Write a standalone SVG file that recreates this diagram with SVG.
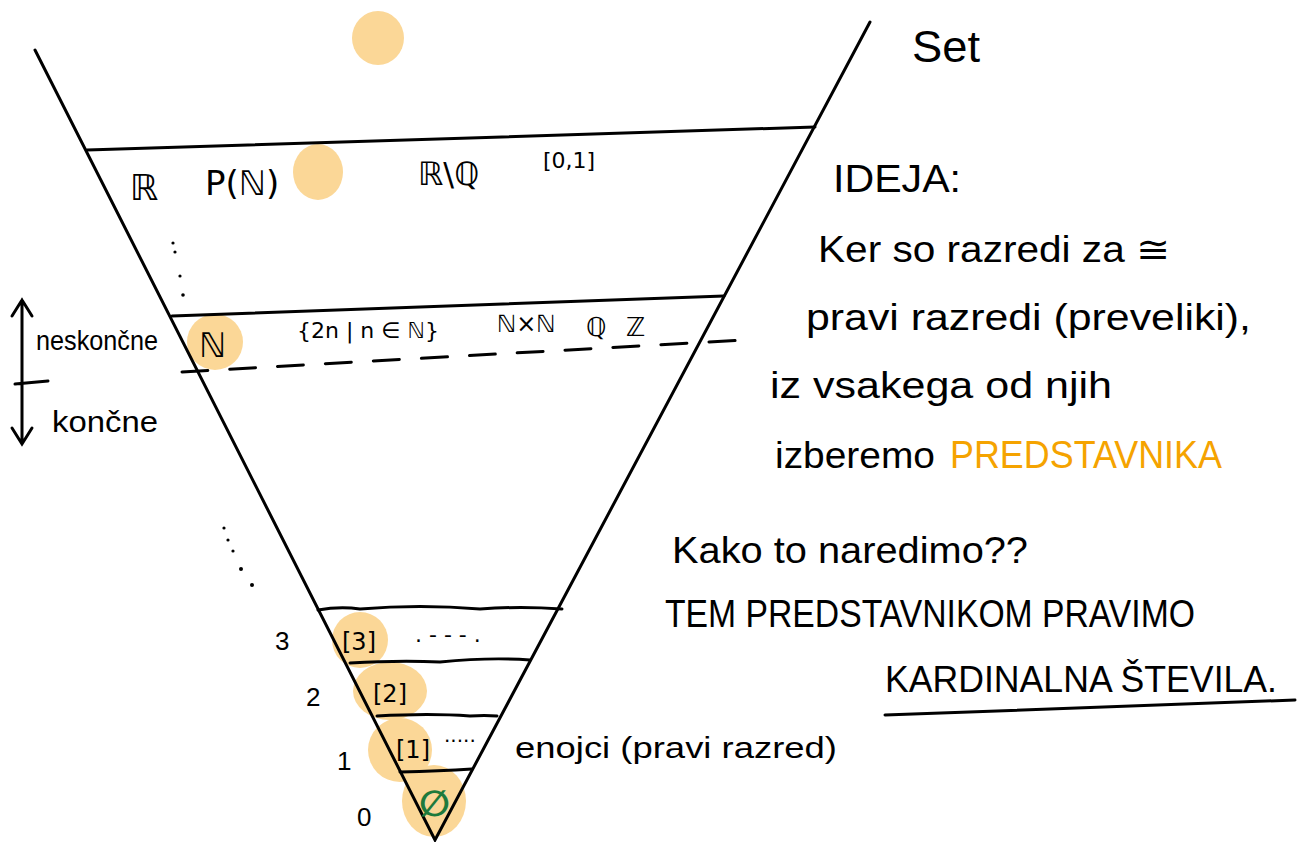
<svg xmlns="http://www.w3.org/2000/svg" width="1298" height="842" viewBox="0 0 1298 842">
<defs>
<style>
.ln{fill:none;stroke:#000;stroke-width:3;stroke-linecap:round}
.hl{fill:#fbd797}
.t{font-family:"DejaVu Sans","Liberation Sans",sans-serif;fill:#000}
.h{font-family:"Liberation Sans","DejaVu Sans",sans-serif;fill:#000}
.or{fill:#f5a300}
</style>
</defs>
<rect width="1298" height="842" fill="#fff"/>

<g id="highlights">
<ellipse class="hl" cx="378" cy="38" rx="26" ry="27"/>
<ellipse class="hl" cx="318" cy="172" rx="25" ry="28"/>
<ellipse class="hl" cx="215" cy="342" rx="28" ry="28"/>
<ellipse class="hl" cx="360" cy="640" rx="28" ry="28"/>
<ellipse class="hl" cx="390" cy="691" rx="37" ry="29"/>
<ellipse class="hl" cx="400" cy="750" rx="32" ry="32"/>
<ellipse class="hl" cx="434" cy="801" rx="32" ry="36"/>
</g>

<g id="connectors">
<path class="ln" d="M35 50 L435 840 L870 22"/>
<path class="ln" d="M87 150 L815 127"/>
<path class="ln" d="M172 316 L724 296"/>
<path class="ln" stroke-dasharray="26 22" d="M182 372 Q460 356 745 340"/>
<path class="ln" d="M318 610 Q340 606 360 609 Q420 604 480 609 Q520 606 562 609"/>
<path class="ln" d="M350 663 Q400 660 440 662 Q490 657 530 660"/>
<path class="ln" d="M377 716 Q430 713 470 716 Q485 715 497 716"/>
<path class="ln" d="M400 772 Q440 771 472 769"/>
<path class="ln" d="M885 715 L1295 700"/>
<path class="ln" d="M22 300 L22 442 M12 316 L22 300 L32 316 M12 428 L22 444 L32 428 M15 384 L48 381"/>
</g>

<g id="dots">
<circle cx="173" cy="243" r="1.6"/><circle cx="175" cy="252" r="1.6"/>
<circle cx="180" cy="276" r="1.6"/><circle cx="183" cy="295" r="1.8"/>
<circle cx="224" cy="528" r="1.6"/><circle cx="228" cy="540" r="1.6"/>
<circle cx="233" cy="551" r="1.6"/><circle cx="241" cy="569" r="2"/><circle cx="252" cy="585" r="2"/>
</g>

<g id="top-class">
<text class="t" x="130" y="200" font-size="36">ℝ</text>
<text class="t" x="205" y="195" font-size="34">P(ℕ)</text>
<text class="t" x="418" y="185" font-size="32">ℝ\ℚ</text>
<text class="t" x="543" y="168" font-size="22">[0,1]</text>
</g>

<g id="countable-class">
<text class="t" x="199" y="357" font-size="34">ℕ</text>
<text class="t" x="297" y="338" font-size="22">{2n | n ∈ ℕ}</text>
<text class="t" x="497" y="332" font-size="24">ℕ×ℕ</text>
<text class="t" x="586" y="336" font-size="26">ℚ</text>
<text class="t" x="626" y="336" font-size="26">ℤ</text>
</g>

<g id="side-labels">
<text class="h" x="36" y="350" font-size="28" textLength="122" lengthAdjust="spacingAndGlyphs">neskončne</text>
<text class="h" x="52" y="432" font-size="30" textLength="106" lengthAdjust="spacingAndGlyphs">končne</text>
</g>

<g id="finite-classes">
<text class="h" x="275" y="650" font-size="26">3</text>
<text class="h" x="306" y="706" font-size="26">2</text>
<text class="h" x="337" y="770" font-size="26">1</text>
<text class="h" x="357" y="826" font-size="26">0</text>
<text class="t" x="342" y="650" font-size="24">[3]</text>
<text class="t" x="415" y="642" font-size="22">. - - - .</text>
<text class="t" x="373" y="702" font-size="24">[2]</text>
<text class="t" x="396" y="758" font-size="24">[1]</text>
<text class="t" x="444" y="742" font-size="20">.....</text>
<text class="t" x="419" y="816" font-size="36" font-weight="bold" style="fill:#1e7a3c">∅</text>
<text class="h" x="515" y="758" font-size="30" textLength="322" lengthAdjust="spacingAndGlyphs">enojci  (pravi razred)</text>
</g>

<g id="title">
<text class="h" x="912" y="62" font-size="44" textLength="68" lengthAdjust="spacingAndGlyphs">Set</text>
</g>

<g id="idea">
<text class="h" x="833" y="192" font-size="38" textLength="128" lengthAdjust="spacingAndGlyphs">IDEJA:</text>
<text class="h" x="818" y="262" font-size="36" textLength="352" lengthAdjust="spacingAndGlyphs">Ker so razredi za ≅</text>
<text class="h" x="806" y="330" font-size="36" textLength="445" lengthAdjust="spacingAndGlyphs">pravi razredi (preveliki),</text>
<text class="h" x="770" y="398" font-size="36" textLength="342" lengthAdjust="spacingAndGlyphs">iz vsakega od njih</text>
<text class="h" x="775" y="468" font-size="36" textLength="160" lengthAdjust="spacingAndGlyphs">izberemo</text>
<text class="h or" x="950" y="468" font-size="38" textLength="272" lengthAdjust="spacingAndGlyphs" style="fill:#f5a300">PREDSTAVNIKA</text>
<text class="h" x="672" y="563" font-size="36" textLength="356" lengthAdjust="spacingAndGlyphs">Kako to naredimo??</text>
<text class="h" x="665" y="627" font-size="38" textLength="530" lengthAdjust="spacingAndGlyphs">TEM PREDSTAVNIKOM PRAVIMO</text>
<text class="h" x="885" y="692" font-size="36" textLength="392" lengthAdjust="spacingAndGlyphs">KARDINALNA ŠTEVILA.</text>
</g>
</svg>
